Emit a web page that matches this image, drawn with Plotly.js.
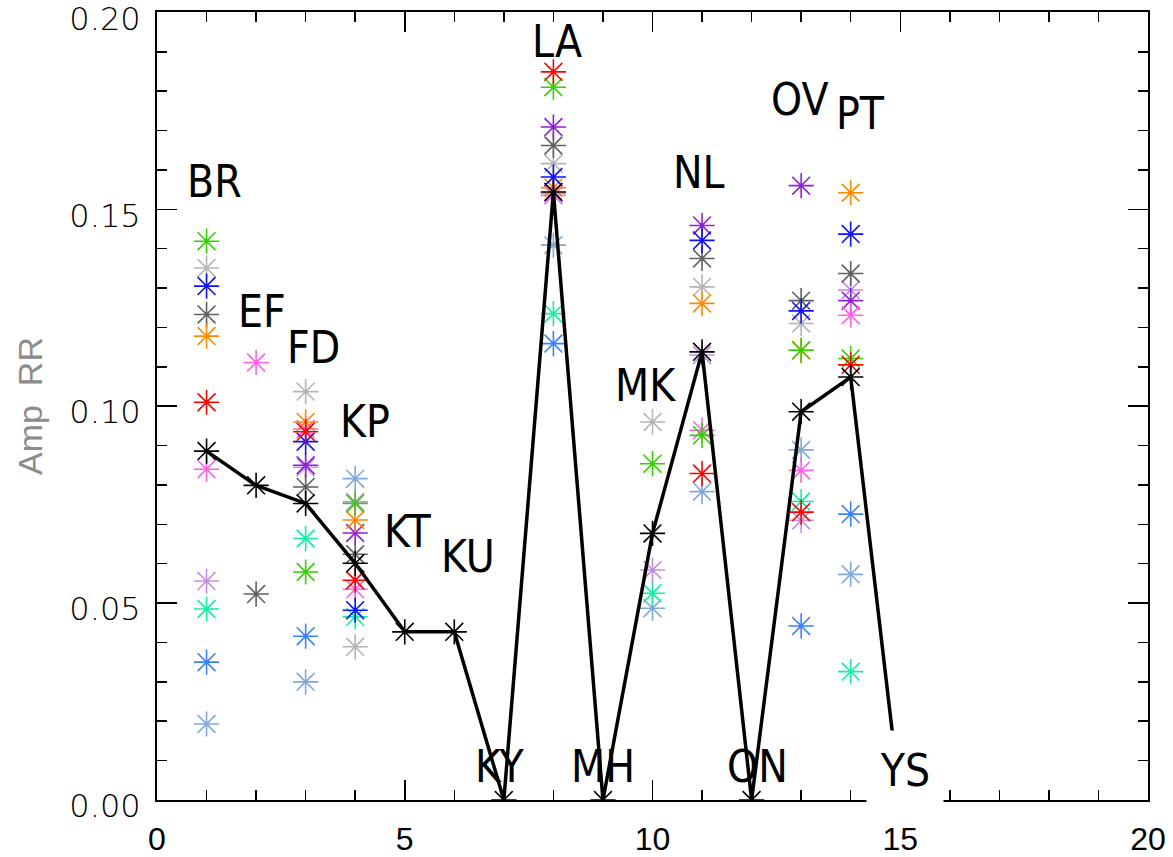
<!DOCTYPE html>
<html>
<head>
<meta charset="utf-8">
<script src="https://cdn.plot.ly/plotly-3.0.1.min.js"></script>
<style>html,body{margin:0;padding:0;background:#fff;}#chart{width:1173px;height:857px;}</style>
</head>
<body>
<div id="chart"></div>
<script>
// Station names and their x index
var stations = ['BR','EF','FD','KP','KT','KU','KY','LA','MH','MK','NL','ON','OV','PT','YS'];
var stationX = [1,2,3,4,5,6,7,8,9,10,11,12,13,14,15];

// Component values per station (null = not present)
var redVals        = [0.1010, null, 0.0935, 0.0558, null, null, null, 0.1849, null, null,   0.0829, null, 0.0731, 0.1105, null];
var greenVals      = [0.1419, null, 0.0579, 0.0753, null, null, null, 0.1810, null, 0.0854, 0.0926, null, 0.1142, 0.1121, null];
var blueVals       = [0.1305, null, 0.0910, 0.0482, null, null, null, 0.1582, null, null,   0.1421, null, 0.1242, 0.1437, null];
var orangeVals     = [0.1178, null, 0.0960, 0.0711, null, null, null, 0.1555, null, null,   0.1261, null, 0.1142, 0.1542, null];
var darkGrayVals   = [0.1233, 0.0523, 0.0795, 0.0624, null, null, null, 0.1662, null, null, 0.1375, null, 0.1268, 0.1337, null];
var lightGrayVals  = [0.1351, null, 0.1037, 0.0389, null, null, null, 0.1616, null, 0.0960, 0.1303, null, 0.1210, null, null];
var pinkVals       = [0.0840, 0.1111, 0.0942, 0.0535, null, null, null, 0.1540, null, null, 0.0939, null, 0.0837, 0.1231, null];
var purpleVals     = [null, null, 0.0850, 0.0678, null, null, null, 0.1709, null, null,     0.1459, null, 0.1560, 0.1268, null];
var lightPurpleVals= [0.0556, null, 0.0845, 0.0757, null, null, null, 0.1535, null, 0.0584, 0.1130, null, 0.0710, 0.1295, null];
var springVals     = [0.0485, null, 0.0664, 0.0465, null, null, null, 0.1235, null, 0.0525, null, null, 0.0758, 0.0326, null];
var azureVals      = [0.0350, null, 0.0416, null, null, null, null, 0.1159, null, null,     null, null, 0.0442, 0.0726, null];
var steelVals      = [0.0193, null, 0.0300, 0.0816, null, null, null, 0.1409, null, 0.0487, 0.0783, null, 0.0889, 0.0573, null];
var meanVals       = [0.0886, 0.0799, 0.0753, 0.0601, 0.0427, 0.0427, 0, 0.1544, 0, 0.0677, 0.1138, 0, 0.0986, 0.1074, 0];

// Axis tick values and labels
var yTickVals = [0, 0.05, 0.10, 0.15, 0.20];
var yTickText = ['0.00', '0.05', '0.10', '0.15', '0.20'];
var xTickVals = [0, 5, 10, 15, 20];

// Label anchor positions (data coordinates)
var labelX = [1.17, 2.12, 3.15, 4.20, 5.07, 6.28, 6.92, 8.07, 9.00, 9.85, 10.94, 12.11, 12.96, 14.19, 15.10];
var labelY = [0.1571, 0.1241, 0.1150, 0.0962, 0.0683, 0.0619, 0.0084, 0.1926, 0.0084, 0.1053, 0.1594, 0.0084, 0.1779, 0.1744, 0.0076];

var seriesList = [
  {v: steelVals, c: '#80a8d8'},
  {v: azureVals, c: '#3a80ff'},
  {v: springVals, c: '#10f0a0'},
  {v: lightPurpleVals, c: '#c090e0'},
  {v: purpleVals, c: '#9020d8'},
  {v: pinkVals, c: '#ff60e8'},
  {v: lightGrayVals, c: '#b4b4b4'},
  {v: darkGrayVals, c: '#606060'},
  {v: orangeVals, c: '#ff8800'},
  {v: blueVals, c: '#1010ff'},
  {v: greenVals, c: '#33d000'},
  {v: redVals, c: '#ff0000'}
];

var traces = seriesList.map(function(s){
  return {
    x: stationX, y: s.v, type: 'scatter', mode: 'markers',
    marker: {symbol: 'asterisk-open', size: 21, color: s.c, line: {color: s.c, width: 1.6}},
    hoverinfo: 'skip', showlegend: false
  };
});
traces.push({
  x: stationX, y: meanVals, type: 'scatter', mode: 'lines+markers',
  line: {color: '#000', width: 3.5},
  marker: {symbol: 'asterisk-open', size: 21, color: '#000', line: {color: '#000', width: 1.6}},
  hoverinfo: 'skip', showlegend: false
});

var labelFont = {family: 'Liberation Sans Narrow, DejaVu Sans Condensed, Arial Narrow, sans-serif', size: 44, color: '#000'};
var annotations = stations.map(function(name, i){
  var a = {x: labelX[i], y: labelY[i], xref: 'x', yref: 'y', text: name, showarrow: false,
           xanchor: 'center', yanchor: 'middle', font: labelFont};
  if (name === 'YS') { a.bgcolor = '#fff'; a.width = 76; a.height = 78; a.borderpad = 0; }
  return a;
});

var layout = {
  width: 1173, height: 857,
  margin: {l: 157, r: 25, t: 12, b: 57, pad: 0},
  paper_bgcolor: '#fff', plot_bgcolor: '#fff',
  showlegend: false,
  xaxis: {
    range: [0, 20], tickmode: 'array', tickvals: xTickVals,
    ticks: 'inside', ticklen: 20, tickwidth: 1.5, tickcolor: '#000',
    minor: {tickmode: 'linear', tick0: 0, dtick: 1, ticks: 'inside', ticklen: 10, tickwidth: 1.5, tickcolor: '#000', showgrid: false},
    showline: true, linecolor: '#000', linewidth: 2, mirror: 'ticks',
    showgrid: false, zeroline: false,
    tickfont: {family: 'Liberation Sans, Arial, sans-serif', size: 32, color: '#000'},
    ticklabelstandoff: 10, ticklabeloverflow: 'allow'
  },
  yaxis: {
    range: [0, 0.2001], tickmode: 'array', tickvals: yTickVals, ticktext: yTickText,
    ticks: 'inside', ticklen: 20, tickwidth: 1.5, tickcolor: '#000',
    minor: {tickmode: 'linear', tick0: 0, dtick: 0.01, ticks: 'inside', ticklen: 10, tickwidth: 1.5, tickcolor: '#000', showgrid: false},
    showline: true, linecolor: '#000', linewidth: 2, mirror: 'ticks',
    showgrid: false, zeroline: false,
    tickfont: {family: 'DejaVu Sans, sans-serif', size: 32, color: '#000', weight: 300},
    ticklabelstandoff: 8, ticklabelshift: 6, ticklabeloverflow: 'allow',
    title: {text: 'Amp  RR', font: {family: 'Liberation Sans, Arial, sans-serif', size: 34, color: '#8c8c8c'}, standoff: 16}
  },
  annotations: annotations
};

Plotly.newPlot('chart', traces, layout, {staticPlot: true, displayModeBar: false});
</script>
</body>
</html>
